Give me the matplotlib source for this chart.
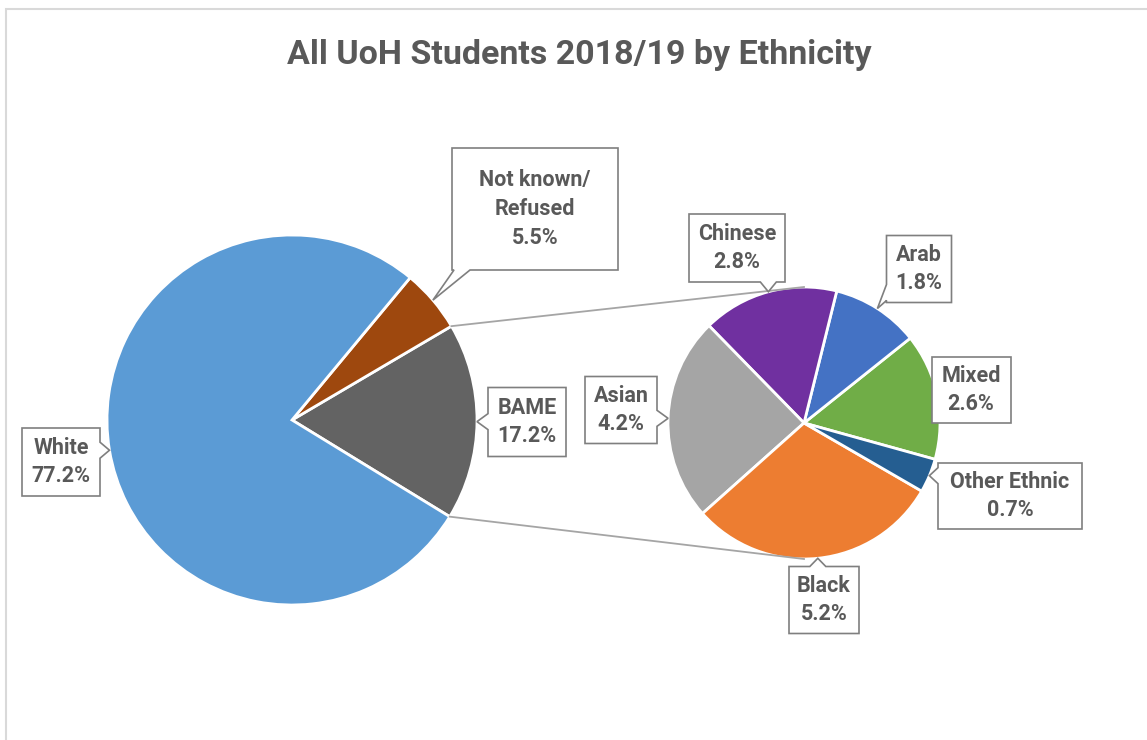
import matplotlib.pyplot as plt
from matplotlib.patches import Polygon, Rectangle
import numpy as np

plt.rcParams['font.family'] = ['Roboto', 'DejaVu Sans']

W, H = 1147, 740

# main pie (counter-clockwise from the BAME slice)
main_cats = ["BAME", "Not known/\nRefused", "White"]
main_vals = [17.2, 5.5, 77.2]
main_colors = ["#636363", "#9E480E", "#5B9BD5"]

# breakdown of BAME
sub_cats = ["Mixed", "Arab", "Chinese", "Asian", "Black", "Other Ethnic"]
sub_vals = [2.6, 1.8, 2.8, 4.2, 5.2, 0.7]
sub_colors = ["#70AD47", "#4472C4", "#7030A0", "#A5A5A5", "#ED7D31", "#255E91"]

# label box layout in pixels (centre x, centre y from top, width, height)
box_layout = {
    "White": (61, 462, 78, 68),
    "Not known/\nRefused": (535, 209, 166, 122),
    "BAME": (527, 422, 78, 69),
    "Chinese": (737, 248, 96, 68),
    "Arab": (919, 269, 65, 67),
    "Mixed": (971, 390, 79, 66),
    "Other Ethnic": (1010, 496, 144, 66),
    "Black": (824, 600, 70, 67),
    "Asian": (621, 410, 72, 67),
}

TEXT = "#595959"
EDGE = "#7F7F7F"


def callout(ax, cx, cy, w, h, tip, text):
    x0, x1 = cx - w / 2, cx + w / 2
    y0, y1 = cy - h / 2, cy + h / 2
    tx, ty = tip
    bw = 16
    dists = {"left": x0 - tx, "right": tx - x1, "bottom": y0 - ty, "top": ty - y1}
    side = max(dists, key=dists.get)
    if dists[side] <= 0:
        side = None
    pts = [(x0, y0)]
    if side == "bottom":
        b = np.clip(tx, x0 + bw / 2 + 2, x1 - bw / 2 - 2)
        pts += [(b - bw / 2, y0), (tx, ty), (b + bw / 2, y0)]
    pts.append((x1, y0))
    if side == "right":
        b = np.clip(ty, y0 + bw / 2 + 2, y1 - bw / 2 - 2)
        pts += [(x1, b - bw / 2), (tx, ty), (x1, b + bw / 2)]
    pts.append((x1, y1))
    if side == "top":
        b = np.clip(tx, x0 + bw / 2 + 2, x1 - bw / 2 - 2)
        pts += [(b + bw / 2, y1), (tx, ty), (b - bw / 2, y1)]
    pts.append((x0, y1))
    if side == "left":
        b = np.clip(ty, y0 + bw / 2 + 2, y1 - bw / 2 - 2)
        pts += [(x0, b + bw / 2), (tx, ty), (x0, b - bw / 2)]
    ax.add_patch(Polygon(pts, closed=True, facecolor="white", edgecolor=EDGE,
                         linewidth=1.2, zorder=5))
    ax.text(cx, cy, text, ha="center", va="center", fontsize=15.5,
            fontweight="bold", color=TEXT, linespacing=1.4, zorder=6)


fig = plt.figure(figsize=(11.47, 7.4), dpi=100)
ax = fig.add_axes([0, 0, 1, 1])

main_c, main_r = (292, H - 420), 185
sub_c, sub_r = (804, H - 423), 136

wedge_kw = dict(edgecolor="white", linewidth=2)
main_w, _ = ax.pie(main_vals, colors=main_colors, startangle=-31.5,
                   center=main_c, radius=main_r, wedgeprops=wedge_kw)
sub_w, _ = ax.pie(sub_vals, colors=sub_colors, startangle=-15.5,
                  center=sub_c, radius=sub_r, wedgeprops=wedge_kw)

ax.set_xlim(0, W)
ax.set_ylim(0, H)
ax.set_aspect("auto")
ax.axis("off")


def on_rim(c, r, ang):
    a = np.deg2rad(ang)
    return c[0] + r * np.cos(a), c[1] + r * np.sin(a)


# connector lines from the BAME slice to the secondary pie
bame = main_w[0]
p_top = on_rim(main_c, main_r, bame.theta2)
p_bot = on_rim(main_c, main_r, bame.theta1)
ax.plot([p_top[0], sub_c[0]], [p_top[1], sub_c[1] + sub_r], color="#A5A5A5",
        lw=1.3, zorder=3)
ax.plot([p_bot[0], sub_c[0]], [p_bot[1], sub_c[1] - sub_r], color="#A5A5A5",
        lw=1.3, zorder=3)

for wdg, cat, val in zip(main_w, main_cats, main_vals):
    tip = on_rim(main_c, main_r, (wdg.theta1 + wdg.theta2) / 2)
    bx, by, bw, bh = box_layout[cat]
    callout(ax, bx, H - by, bw, bh, tip, f"{cat}\n{val:.1f}%")

for wdg, cat, val in zip(sub_w, sub_cats, sub_vals):
    tip = on_rim(sub_c, sub_r, (wdg.theta1 + wdg.theta2) / 2)
    bx, by, bw, bh = box_layout[cat]
    callout(ax, bx, H - by, bw, bh, tip, f"{cat}\n{val:.1f}%")

# chart frame
ax.add_patch(Rectangle((6, -20), 1200, H - 9 + 20, facecolor="none",
                       edgecolor="#D9D9D9", linewidth=1.5, clip_on=False))

ax.text(579, H - 64, "All UoH Students 2018/19 by Ethnicity", ha="center",
        va="baseline", fontsize=24.5, fontweight="bold", color=TEXT)

fig.savefig("out.png", dpi=100)
